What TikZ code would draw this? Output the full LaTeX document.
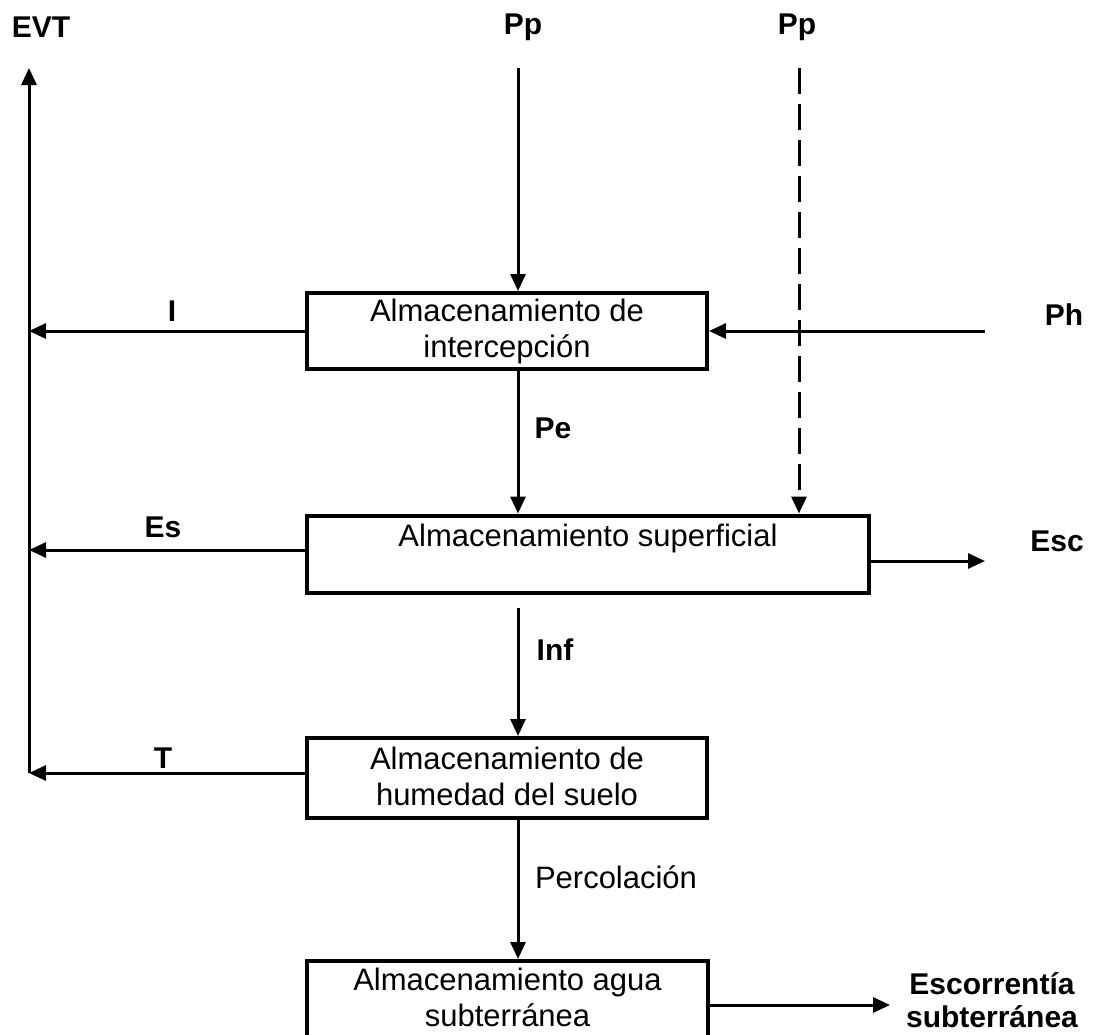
\documentclass[tikz,border=0pt]{standalone}
\usepackage{fontspec}
\setmainfont{Liberation Sans}
\usetikzlibrary{arrows.meta}
\begin{document}
\begin{tikzpicture}[x=1pt,y=-1pt,
  boxstyle/.style={draw,line width=4pt,rectangle,inner sep=0pt,anchor=center},
  boxtext/.style={font=\fontsize{31}{36}\selectfont,align=center,inner sep=0pt},
  lbl/.style={font=\fontsize{30}{33}\selectfont\bfseries,align=center,inner sep=0pt},
  plain/.style={font=\fontsize{31}{37}\selectfont,inner sep=0pt},
  arr/.style={line width=3pt,-{Triangle[length=17pt,width=15pt]}}]
\clip (0,0) rectangle (1097,1034);
\fill[white] (0,0) rectangle (1097,1034);
% boxes
\node[boxstyle,minimum width=400,minimum height=76] (b1) at (507,331) {};
\node[boxtext] (t1) at (507,331) {Almacenamiento de\\intercepción};
\node[boxstyle,minimum width=562,minimum height=77] (b2) at (588,554) {};
\node[boxtext] (t2) at (588,538) {Almacenamiento superficial};
\node[boxstyle,minimum width=400,minimum height=80] (b3) at (507,778) {};
\node[boxtext] (t3) at (507,776) {Almacenamiento de\\humedad del suelo};
\node[boxstyle,minimum width=401,minimum height=100] (b4) at (507.5,1011) {};
\node[boxtext] (t4) at (507.5,997) {Almacenamiento agua\\subterránea};
% coordinates
\coordinate (evtbot) at (29,773);
\coordinate (evttop) at (29,68);
\coordinate (pptop) at (518,68);
\coordinate (ppdtop) at (799,68);
\coordinate (phstart) at (985,331);
\coordinate (escend) at (985,561);
\coordinate (escsub) at (890,1005);
\coordinate (inftop) at (518,608);
% labels
\node[lbl] (evt) at (41,27) {EVT};
\node[lbl] (pp1) at (523,27) {Pp};
\node[lbl] (pp2) at (797,27) {Pp};
\node[lbl] (li) at (172,311) {I};
\node[lbl] (lph) at (1064,315) {Ph};
\node[lbl] (lpe) at (553,428) {Pe};
\node[lbl] (les) at (163,527) {Es};
\node[lbl] (lesc) at (1057,541) {Esc};
\node[lbl] (linf) at (555,650) {Inf};
\node[lbl] (lt) at (163,758) {T};
\node[plain] (lperc) at (616,877) {Percolación};
\node[lbl] (lescs) at (992,1000) {Escorrentía\\subterránea};
% connectors
\draw[arr] (evtbot) -- (evttop);
\draw[arr] (pptop) -- (pptop |- b1.north);
\draw[arr,dash pattern=on 26pt off 10pt] (ppdtop) -- (ppdtop |- b2.north);
\draw[arr] (b1.west) -- (b1.west -| evtbot);
\draw[arr] (phstart) -- (phstart -| b1.east);
\draw[arr] (b1.south -| pptop) -- (b2.north -| pptop);
\draw[arr] ([yshift=4pt]b2.west) -- ([yshift=4pt]b2.west -| evtbot);
\draw[arr] (escend -| b2.east) -- (escend);
\draw[arr] (inftop) -- (inftop |- b3.north);
\draw[arr] (b3.west |- evtbot) -- (evtbot);
\draw[arr] (b3.south -| pptop) -- (b4.north -| pptop);
\draw[arr] (escsub -| b4.east) -- (escsub);
\end{tikzpicture}
\end{document}
